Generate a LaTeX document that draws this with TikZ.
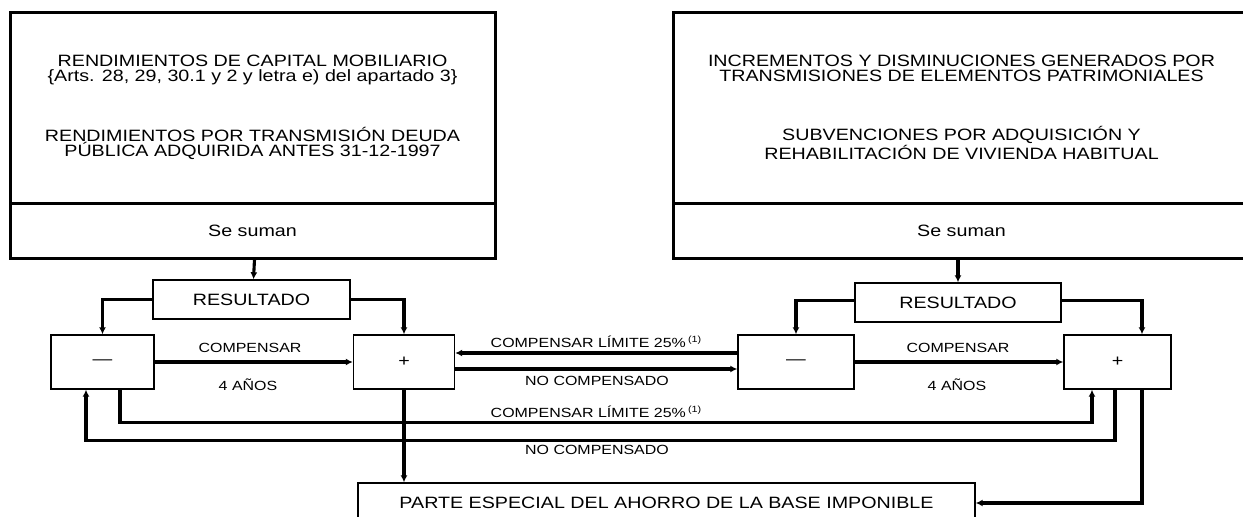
\documentclass[tikz,border=0pt]{standalone}
\usepackage{fontspec}
\setmainfont{Liberation Sans}[FakeStretch=1.2]
\usetikzlibrary{arrows.meta}
\newcommand{\fnone}{\,\raisebox{5pt}{\fontsize{9}{9}\selectfont (1)}}
\begin{document}
\begin{tikzpicture}[x=1pt,y=-1pt,
  bigbox/.style={draw,line width=3pt,inner sep=0pt,align=center,font=\fontsize{16.4}{15}\selectfont},
  smallbox/.style={draw,line width=1.4pt,inner sep=0pt,align=center,font=\fontsize{16.4}{15}\selectfont},
  conn/.style={line width=3.1pt},
  arr/.style={conn,-{Latex[length=7pt,width=7pt]}},
  lbl/.style={inner sep=0pt,font=\fontsize{13.3}{15}\selectfont},
]
\useasboundingbox (0,0) rectangle (1243,517);

% big boxes
\node[bigbox,minimum width=485pt,minimum height=191pt] (topL) at (252.5,107.5)
  {RENDIMIENTOS DE CAPITAL MOBILIARIO\\{\{}Arts. 28, 29, 30.1 y 2 y letra e) del apartado 3{\}}\\[41pt]
   RENDIMIENTOS POR TRANSMISIÓN DEUDA\\PÚBLICA ADQUIRIDA ANTES 31-12-1997};
\node[bigbox,minimum width=485pt,minimum height=55pt] (sumL) at (252.5,230.5) {Se suman};

\node[bigbox,minimum width=577pt,minimum height=191pt] (topR) at (961.5,107.5)
  {INCREMENTOS Y DISMINUCIONES GENERADOS POR\\TRANSMISIONES DE ELEMENTOS PATRIMONIALES\\[44pt]
   SUBVENCIONES POR ADQUISICIÓN Y\\REHABILITACIÓN DE VIVIENDA HABITUAL};
\node[bigbox,minimum width=577pt,minimum height=55pt] (sumR) at (961.5,230.5) {Se suman};

% resultado boxes
\node[smallbox,minimum width=197pt,minimum height=39pt] (resL) at (251.5,299.5) {RESULTADO};
\node[smallbox,minimum width=206pt,minimum height=39pt] (resR) at (958,302.5) {RESULTADO};

% sign boxes
\node[smallbox,minimum width=103pt,minimum height=54pt] (minL) at (102.5,362) {—};
\node[smallbox,minimum width=101pt,minimum height=54pt] (plusL) at (404,362) {+};
\node[smallbox,minimum width=116pt,minimum height=54pt] (minR) at (796,362) {—};
\node[smallbox,minimum width=107pt,minimum height=54pt] (plusR) at (1117.5,362) {+};

% result box
\node[smallbox,minimum width=617pt,minimum height=40pt] (parte) at (666.5,503)
  {PARTE ESPECIAL DEL AHORRO DE LA BASE IMPONIBLE};

% connectors from Se suman
\draw[arr] ([xshift=2pt]sumL.south) -- ([xshift=2pt]resL.north);
\draw[arr] (sumR.south -| resR.north) -- (resR.north);

% resultado splits
\draw[arr] (resL.west) -| (minL.north);
\draw[arr] (resL.east) -| (plusL.north);
\draw[arr] ([yshift=2pt]resR.west) -| (minR.north);
\draw[arr] ([yshift=2pt]resR.east) -| ([xshift=24.5pt]plusR.north);

% compensar 4 años
\draw[arr] (minL.east) -- (plusL.west);
\draw[arr] (minR.east) -- (plusR.west);
\node[lbl] (c1) at (250,348) {COMPENSAR};
\node[lbl] (a1) at (248,385) {4 AÑOS};
\node[lbl] (c2) at (958,348) {COMPENSAR};
\node[lbl] (a2) at (957,385) {4 AÑOS};

% middle connections
\draw[arr] ([yshift=9pt]minR.west) -- ([yshift=9pt]plusL.east);
\draw[arr] ([yshift=-7pt]plusL.east) -- ([yshift=-7pt]minR.west);
\node[lbl] (m1) at (596,342) {COMPENSAR LÍMITE 25\%\fnone};
\node[lbl] (m2) at (597,381) {NO COMPENSADO};

% long lower connections
\draw[arr] ([xshift=17.5pt]minL.south) -- ++(0,33) -| ([xshift=-25.5pt]plusR.south);
\draw[arr] ([xshift=-2.5pt]plusR.south) -- ++(0,51) -| ([xshift=-16.5pt]minL.south);
\node[lbl] (b1) at (596,412) {COMPENSAR LÍMITE 25\%\fnone};
\node[lbl] (b2) at (597,450) {NO COMPENSADO};

% to parte especial
\draw[arr] (plusL.south) -- (plusL.south |- parte.north);
\draw[arr] ([xshift=24.5pt]plusR.south) |- (parte.east);
\end{tikzpicture}
\end{document}
